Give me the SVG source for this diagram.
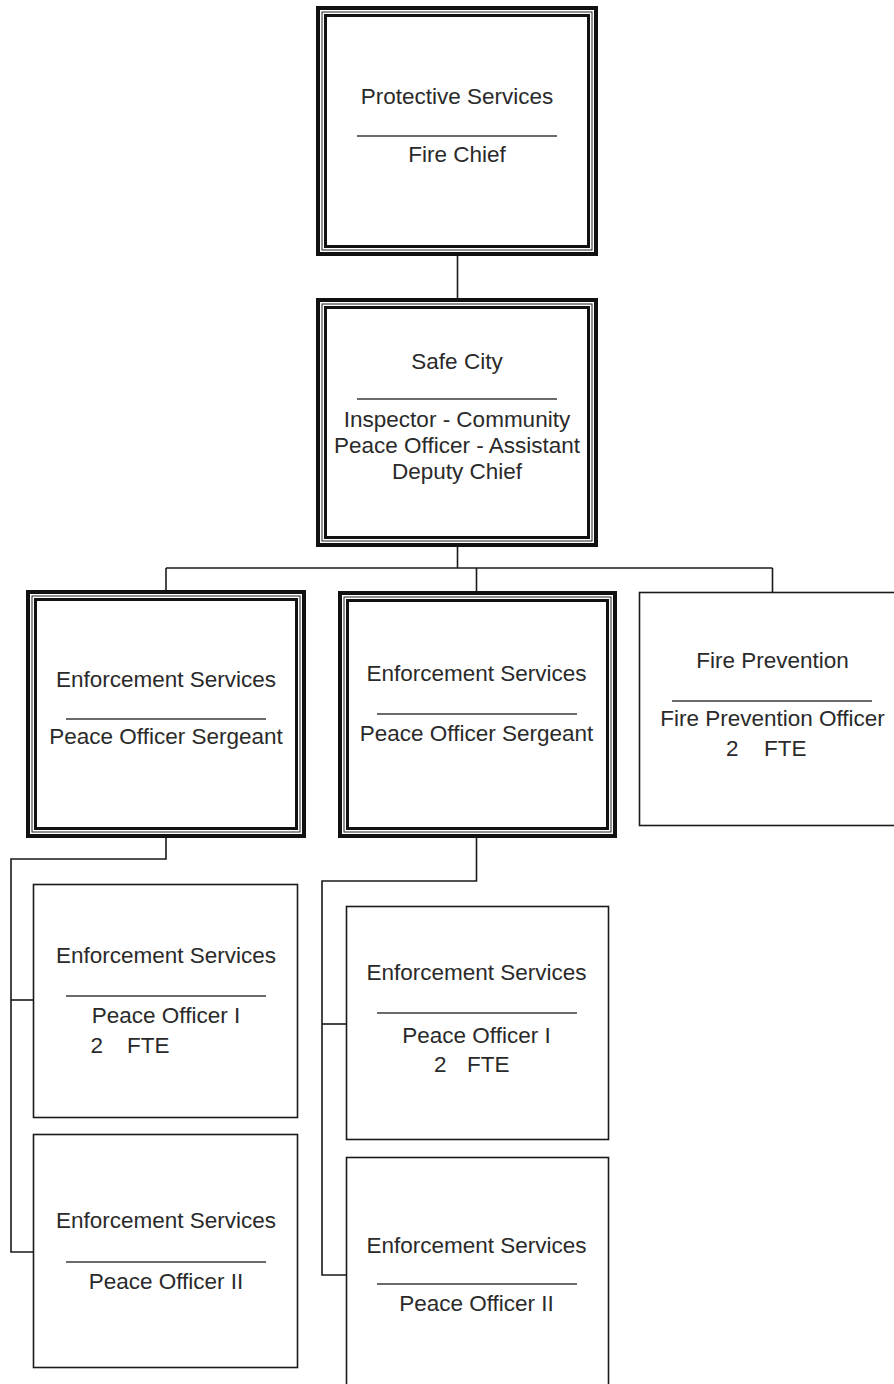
<svg xmlns="http://www.w3.org/2000/svg" width="894" height="1384" viewBox="0 0 894 1384">
  <style>
    .bg { fill: #ffffff; }
    .frame-outer { fill: none; stroke: #111; stroke-width: 4; }
    .frame-mid { fill: none; stroke: #222; stroke-width: 1; }
    .frame-inner { fill: #fff; stroke: #111; stroke-width: 3; }
    .box { fill: #fff; stroke: #1a1a1a; stroke-width: 1.6; }
    .sep { stroke: #3a3a3a; stroke-width: 1.5; }
    .wire { fill: none; stroke: #1a1a1a; stroke-width: 1.6; }
    text { font-family: "Liberation Sans", Arial, sans-serif; font-size: 22.5px; fill: #2a2a2a; }
    .c { text-anchor: middle; }
  </style>

  <rect class="bg" x="0" y="0" width="894" height="1384"/>

  <!-- reporting lines -->
  <g id="connectors">
    <path class="wire" d="M457.5,256 V298"/>
    <path class="wire" d="M457.5,547 V568"/>
    <path class="wire" d="M166,568 H772.5"/>
    <path class="wire" d="M166,568 V590"/>
    <path class="wire" d="M476.5,568 V591"/>
    <path class="wire" d="M772.5,568 V592"/>
    <path class="wire" d="M166,838 V859 H11 V1252 H33"/>
    <path class="wire" d="M11,1000 H33"/>
    <path class="wire" d="M476.5,838 V881 H322 V1275 H346"/>
    <path class="wire" d="M322,1024 H346"/>
  </g>

  <!-- Protective Services (triple frame: outer 316..598 x 6..256) -->
  <g id="protective-services">
    <rect class="frame-outer" x="318" y="8" width="278" height="246"/>
    <rect class="frame-mid" x="322" y="12" width="270" height="238"/>
    <rect class="frame-inner" x="325.5" y="15.5" width="263" height="231"/>
    <text class="c" x="457" y="104">Protective Services</text>
    <line class="sep" x1="357" y1="136" x2="557" y2="136"/>
    <text class="c" x="457" y="161.5">Fire Chief</text>
  </g>

  <!-- Safe City -->
  <g id="safe-city">
    <rect class="frame-outer" x="318" y="300" width="278" height="245"/>
    <rect class="frame-mid" x="322" y="304" width="270" height="237"/>
    <rect class="frame-inner" x="325.5" y="307.5" width="263" height="230"/>
    <text class="c" x="457" y="369">Safe City</text>
    <line class="sep" x1="357" y1="399" x2="557" y2="399"/>
    <text class="c" x="457" y="426.5">Inspector - Community</text>
    <text class="c" x="457" y="452.5">Peace Officer - Assistant</text>
    <text class="c" x="457" y="479">Deputy Chief</text>
  </g>

  <!-- Enforcement Services / Sergeant (left) -->
  <g id="enforcement-sergeant-a">
    <rect class="frame-outer" x="28" y="592" width="276" height="244"/>
    <rect class="frame-mid" x="32" y="596" width="268" height="236"/>
    <rect class="frame-inner" x="35.5" y="599.5" width="261" height="229"/>
    <text class="c" x="166" y="686.5">Enforcement Services</text>
    <line class="sep" x1="66" y1="719" x2="266" y2="719"/>
    <text class="c" x="166" y="744">Peace Officer Sergeant</text>
  </g>

  <!-- Enforcement Services / Sergeant (middle) -->
  <g id="enforcement-sergeant-b">
    <rect class="frame-outer" x="340" y="593" width="275" height="243"/>
    <rect class="frame-mid" x="344" y="597" width="267" height="235"/>
    <rect class="frame-inner" x="347.5" y="600.5" width="260" height="228"/>
    <text class="c" x="476.5" y="680.5">Enforcement Services</text>
    <line class="sep" x1="377" y1="714" x2="577" y2="714"/>
    <text class="c" x="476.5" y="741">Peace Officer Sergeant</text>
  </g>

  <!-- Fire Prevention -->
  <g id="fire-prevention">
    <rect class="box" x="639.5" y="592.5" width="262" height="233"/>
    <text class="c" x="772.5" y="667.5">Fire Prevention</text>
    <line class="sep" x1="672" y1="701" x2="872" y2="701"/>
    <text class="c" x="772.5" y="725.5">Fire Prevention Officer</text>
    <text x="726" y="756" xml:space="preserve">2   <tspan x="764">FTE</tspan></text>
  </g>

  <!-- Peace Officer I (left) -->
  <g id="peace-officer-1-a">
    <rect class="box" x="33.5" y="884.5" width="264" height="233"/>
    <text class="c" x="166" y="963">Enforcement Services</text>
    <line class="sep" x1="66" y1="996" x2="266" y2="996"/>
    <text class="c" x="166" y="1023">Peace Officer I</text>
    <text x="90.5" y="1053" xml:space="preserve">2   <tspan x="127">FTE</tspan></text>
  </g>

  <!-- Peace Officer II (left) -->
  <g id="peace-officer-2-a">
    <rect class="box" x="33.5" y="1134.5" width="264" height="233"/>
    <text class="c" x="166" y="1228">Enforcement Services</text>
    <line class="sep" x1="66" y1="1262" x2="266" y2="1262"/>
    <text class="c" x="166" y="1289">Peace Officer II</text>
  </g>

  <!-- Peace Officer I (middle) -->
  <g id="peace-officer-1-b">
    <rect class="box" x="346.5" y="906.5" width="262" height="233"/>
    <text class="c" x="476.5" y="980">Enforcement Services</text>
    <line class="sep" x1="377" y1="1013" x2="577" y2="1013"/>
    <text class="c" x="476.5" y="1042.5">Peace Officer I</text>
    <text x="434" y="1072" xml:space="preserve">2   <tspan x="467">FTE</tspan></text>
  </g>

  <!-- Peace Officer II (middle) -->
  <g id="peace-officer-2-b">
    <rect class="box" x="346.5" y="1157.5" width="262" height="240"/>
    <text class="c" x="476.5" y="1253">Enforcement Services</text>
    <line class="sep" x1="377" y1="1284" x2="577" y2="1284"/>
    <text class="c" x="476.5" y="1311">Peace Officer II</text>
  </g>
</svg>
